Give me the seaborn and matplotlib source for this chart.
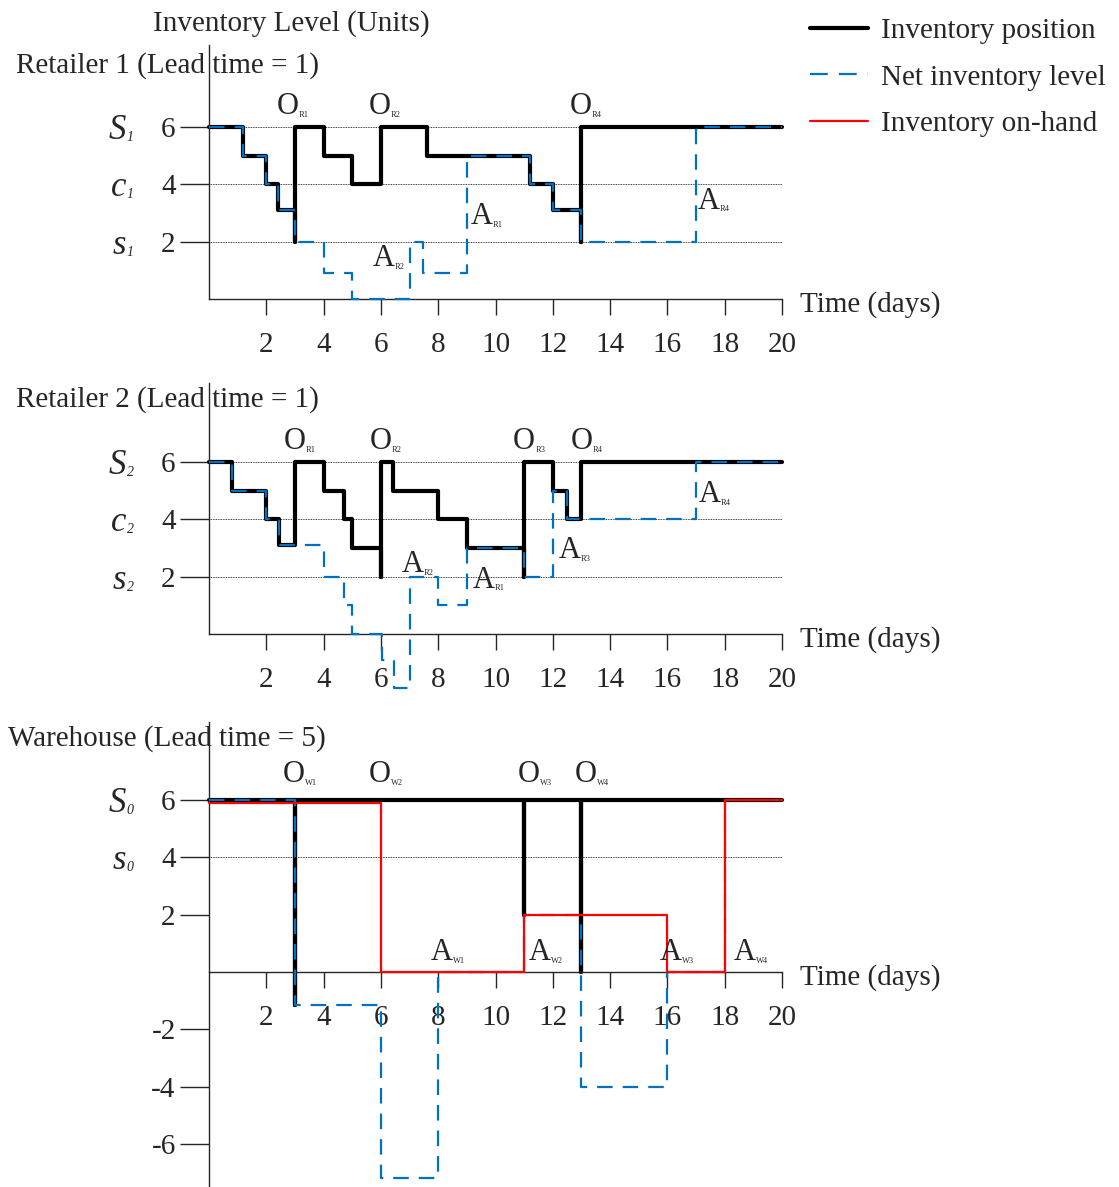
import seaborn as sns
import matplotlib.pyplot as plt
from matplotlib.lines import Line2D

# ---- data: step points (day, units) ----
# Retailer 1
r1_pos_t = [0, 1.2, 2, 2.42, 3, 3, 4, 5, 6, 7.6, 11.2, 12, 13, 13, 20]
r1_pos_y = [6, 5, 4, 3.1, 2, 6, 5, 4, 6, 5, 4, 3.1, 2, 6, 6]
r1_net_t = [0, 1.2, 2, 2.42, 3, 4, 5, 7, 7.48, 9, 11.2, 12, 13, 17, 20]
r1_net_y = [6, 5, 4, 3.1, 2, 0.9, 0, 2, 0.9, 5, 4, 3.1, 2, 6, 6]

# Retailer 2
r2_pos_t = [0, 0.8, 2, 2.44, 3, 4, 4.71, 5, 6, 6, 6.43, 8, 9, 11, 11, 12, 12.48, 13, 20]
r2_pos_y = [6, 5, 4, 3.1, 6, 5, 4, 3, 2, 6, 5, 4, 3, 2, 6, 5, 4, 6, 6]
r2_net_t = [0, 0.8, 2, 2.44, 4, 4.71, 5, 6.03, 6.45, 7, 8, 9, 11, 12, 12.48, 17, 20]
r2_net_y = [6, 5, 4, 3.1, 2, 1, 0, -0.9, -1.9, 2, 1, 3, 2, 5, 4, 6, 6]

# Warehouse
wh_pos_t = [0, 3, 3, 11, 11, 13, 13, 20]
wh_pos_y = [6, -1.15, 6, 2, 6, 0, 6, 6]
wh_net_t = [0, 3, 6, 8, 11, 13, 16, 18, 20]
wh_net_y = [6, -1.15, -7.2, 0, 2, -4, 0, 6, 6]
wh_hand_t = [0, 6, 11, 16, 18, 20]
wh_hand_y = [5.9, 0, 2, 0, 6, 6]

# order / arrival markers: (name, day, level)
r1_orders = [('R1', 2.75, 6.71), ('R2', 5.97, 6.71), ('R4', 12.97, 6.71)]
r1_arrivals = [('R1', 9.52, 2.87), ('R2', 6.11, 1.42), ('R4', 17.45, 3.42)]
r2_orders = [('R1', 2.99, 6.71), ('R2', 5.98, 6.71), ('R3', 11.0, 6.71), ('R4', 13.0, 6.71)]
r2_arrivals = [('R2', 7.11, 2.41), ('R1', 9.58, 1.88), ('R3', 12.6, 2.9), ('R4', 17.49, 4.88)]
wh_orders = [('W1', 2.96, 6.9), ('W2', 5.96, 6.9), ('W3', 11.16, 6.9), ('W4', 13.16, 6.9)]
wh_arrivals = [('W1', 8.12, 0.67), ('W2', 11.55, 0.67), ('W3', 16.12, 0.67), ('W4', 18.71, 0.67)]

BLUE = '#0070c0'
RED = '#ff0000'
DASH = (0, (7, 4.5))
FS = 21

sns.set_style('ticks')
plt.rcParams['font.family'] = ['Liberation Serif', 'DejaVu Serif']
plt.rcParams['axes.linewidth'] = 1.0

W, H = 1119, 1187
PPU = 28.65  # pixels per unit (both axes)
fig = plt.figure(figsize=(W / 100, H / 100), dpi=100)


def make_axes(zero_px, ylo, yhi):
    top = zero_px - yhi * PPU
    bottom = zero_px - ylo * PPU
    ax = fig.add_axes([209 / W, (H - bottom) / H, 573 / W, (bottom - top) / H])
    ax.set_xlim(0, 20)
    ax.set_ylim(ylo, yhi)
    return ax


def step(ax, t, y, **kw):
    sns.lineplot(x=t, y=y, ax=ax, sort=False, estimator=None,
                 drawstyle='steps-post', legend=False, clip_on=False, **kw)


def style_axes(ax, yticks, grid, letters, left_lo):
    sns.despine(ax=ax)
    ax.spines['bottom'].set_position(('data', 0))
    ax.spines['left'].set_bounds(left_lo, ax.get_ylim()[1])
    ax.set_xticks(range(2, 21, 2))
    ax.set_xticklabels([str(v) for v in range(2, 21, 2)])
    ax.set_yticks(yticks)
    ax.set_yticklabels([str(v) for v in yticks])
    ax.tick_params(axis='x', length=11.5, width=1, pad=12, labelsize=FS)
    ax.tick_params(axis='y', length=21, width=1, pad=3, labelsize=FS)
    ax.set_xlabel('')
    ax.set_ylabel('')
    for g in grid:
        ax.axhline(g, color='black', lw=0.6, ls=(0, (1, 1)), zorder=1)
    tr = ax.get_yaxis_transform()
    for letter, sub, lev in letters:
        ax.annotate(letter, xy=(-0.145, lev), xycoords=tr, xytext=(0, -8.5),
                    textcoords='offset points', ha='right', va='baseline',
                    fontsize=25, style='italic')
        ax.annotate(sub, xy=(-0.145, lev), xycoords=tr, xytext=(0.5, -10),
                    textcoords='offset points', ha='left', va='baseline',
                    fontsize=10, style='italic')
    ax.text(1.031, -0.2, 'Time (days)', transform=tr, ha='left', va='center',
            fontsize=FS)


def labels(ax, items, big):
    for name, x, y in items:
        ax.text(x, y, big, ha='center', va='center', fontsize=22, zorder=6)
        ax.annotate(name, xy=(x, y), xytext=(8, -6), textcoords='offset points',
                    ha='left', va='center', fontsize=6, zorder=6)


# ---- Retailer 1 ----
ax1 = make_axes(299, 0, 8.86)
step(ax1, r1_pos_t, r1_pos_y, color='black', lw=3, zorder=2)
step(ax1, r1_net_t, r1_net_y, color=BLUE, lw=1.6, linestyle=DASH, zorder=3)
style_axes(ax1, [2, 4, 6], [2, 4, 6],
           [('S', '1', 6), ('c', '1', 4), ('s', '1', 2)], 0)
labels(ax1, r1_orders, 'O')
labels(ax1, r1_arrivals, 'A')

# ---- Retailer 2 ----
ax2 = make_axes(634, -2.2, 8.75)
step(ax2, r2_pos_t, r2_pos_y, color='black', lw=3, zorder=2)
step(ax2, r2_net_t, r2_net_y, color=BLUE, lw=1.6, linestyle=DASH, zorder=3)
style_axes(ax2, [2, 4, 6], [2, 4, 6],
           [('S', '2', 6), ('c', '2', 4), ('s', '2', 2)], 0)
labels(ax2, r2_orders, 'O')
labels(ax2, r2_arrivals, 'A')

# ---- Warehouse ----
ax3 = make_axes(972, -7.55, 8.74)
step(ax3, wh_pos_t, wh_pos_y, color='black', lw=3, zorder=2)
step(ax3, wh_net_t, wh_net_y, color=BLUE, lw=1.6, linestyle=DASH, zorder=3)
step(ax3, wh_hand_t, wh_hand_y, color=RED, lw=1.6, zorder=4)
style_axes(ax3, [-6, -4, -2, 2, 4, 6], [4, 6],
           [('S', '0', 6), ('s', '0', 4)], -7.55)
labels(ax3, wh_orders, 'O')
labels(ax3, wh_arrivals, 'A')

# ---- titles ----
fig.text(153 / W, 1 - 24 / H, 'Inventory Level (Units)', ha='left', va='center', fontsize=FS)
fig.text(16 / W, 1 - 66 / H, 'Retailer 1 (Lead time = 1)', ha='left', va='center', fontsize=FS)
fig.text(16 / W, 1 - 400 / H, 'Retailer 2 (Lead time = 1)', ha='left', va='center', fontsize=FS)
fig.text(8 / W, 1 - 739 / H, 'Warehouse (Lead time = 5)', ha='left', va='center', fontsize=FS)

# ---- legend ----
handles = [Line2D([], [], color='black', lw=3),
           Line2D([], [], color=BLUE, lw=1.6, linestyle=(0, (8, 5))),
           Line2D([], [], color=RED, lw=1.6)]
fig.legend(handles, ['Inventory position', 'Net inventory level', 'Inventory on-hand'],
           loc='upper left', bbox_to_anchor=(810 / W, 1 - 18 / H), frameon=False,
           fontsize=FS, handlelength=2.0, handletextpad=0.45, labelspacing=0.68,
           borderpad=0, borderaxespad=0)

fig.savefig('out.png', dpi=100)
